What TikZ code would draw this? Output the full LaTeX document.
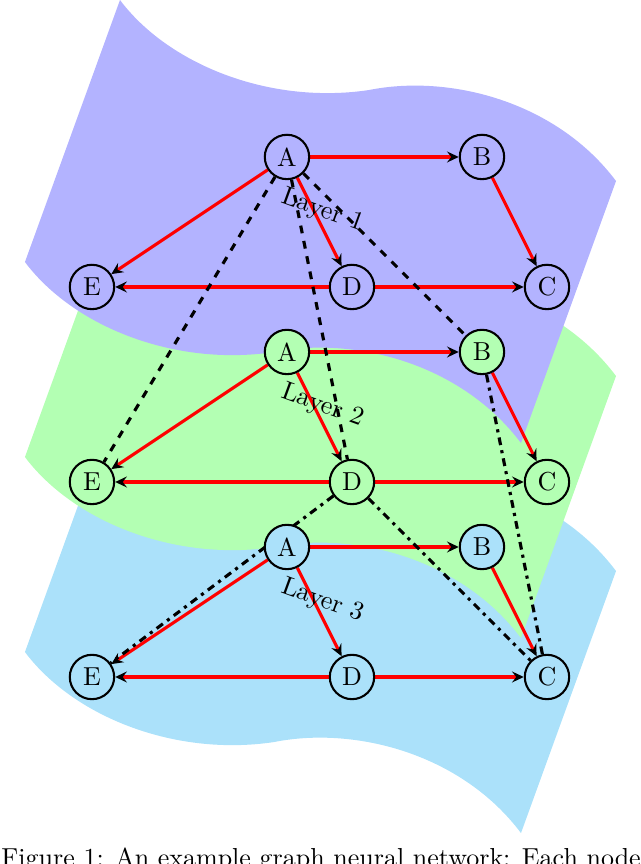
\documentclass[tikz,border=0pt]{standalone}
\usetikzlibrary{arrows.meta}

\definecolor{layerone}{HTML}{B3B3FF}
\definecolor{layertwo}{HTML}{B3FFB3}
\definecolor{layerthree}{HTML}{ABE1FA}

\pgfdeclarelayer{sheets}
\pgfdeclarelayer{edges}
\pgfsetlayers{sheets,edges,main}

\tikzset{
  gnode/.style={circle,draw,thick,minimum size=0.6cm,inner sep=0pt},
  msg/.style={red,very thick,-{Stealth[black,length=4.5pt,width=4.2pt,inset=1.6pt]}},
  skipone/.style={black,very thick,dashed},
  skiptwo/.style={black,very thick,dash dot},
}

\begin{document}
\begin{tikzpicture}[x=0.879cm,y=0.879cm]
  \useasboundingbox (-5.415,-2.877) rectangle (4.431,10.415);
  %% the three sheets, lowest first
  \begin{pgfonlayer}{sheets}
    \foreach \l/\col in {3/layerthree,2/layertwo,1/layerone}{
      \fill[\col,yshift={3*(3-\l)*0.879cm}] (-3.569,4.415)
        .. controls (-2.831,3.430) and (-1.277,2.800) .. (0.262,3.030)
        .. controls (1.493,3.277) and (3.139,2.861) .. (4.062,1.630)
        -- (2.600,-2.401)
        .. controls (1.677,-1.170) and (0.031,-0.754) .. (-1.200,-1.001)
        .. controls (-2.739,-1.231) and (-4.293,-0.601) .. (-5.031,0.384)
        -- cycle ;
    }
  \end{pgfonlayer}
  %% nodes of each layer
  \foreach \l/\col in {1/layerone,2/layertwo,3/layerthree}{
    \pgfmathsetmacro{\o}{3*(3-\l)}
    \node[gnode,fill=\col] (A\l) at (-1,{2+\o}) {A};
    \node[gnode,fill=\col] (B\l) at (2,{2+\o}) {B};
    \node[gnode,fill=\col] (C\l) at (3,{\o}) {C};
    \node[gnode,fill=\col] (D\l) at (0,{\o}) {D};
    \node[gnode,fill=\col] (E\l) at (-4,{\o}) {E};
    \node[rotate=-20] (L\l) at (-0.45,{1.17+\o}) {Layer \l};
  }
  %% edges
  \begin{pgfonlayer}{edges}
    \foreach \l in {1,2,3}{
      \draw[msg] (A\l) -- (B\l);
      \draw[msg] (A\l) -- (E\l);
      \draw[msg] (A\l) -- (D\l);
      \draw[msg] (B\l) -- (C\l);
      \draw[msg] (D\l) -- (E\l);
      \draw[msg] (D\l) -- (C\l);
    }
    % layer 1 -> layer 2
    \draw[skipone] (A1) -- (E2);
    \draw[skipone] (A1) -- (D2);
    \draw[skipone] (A1) -- (B2);
    % layer 2 -> layer 3
    \draw[skiptwo] (D2) -- (E3);
    \draw[skiptwo] (D2) -- (C3);
    \draw[skiptwo] (B2) -- (C3);
  \end{pgfonlayer}
  %% caption, cut by the page
  \begin{scope}
    \clip (-5.415,-2.877) rectangle (4.431,10.415);
    \node[anchor=base west,inner sep=0pt] (cap) at (-5.40,-2.908)
      {Figure 1: An example graph neural network: Each node is updated};
  \end{scope}
\end{tikzpicture}
\end{document}
